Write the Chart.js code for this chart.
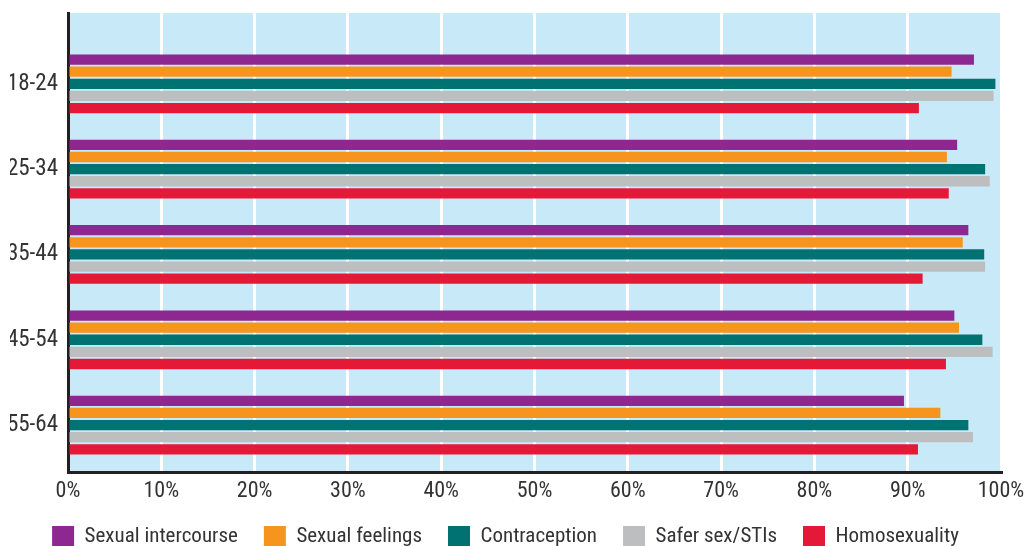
<!DOCTYPE html>
<html>
<head>
<meta charset="utf-8">
<script src="https://cdn.jsdelivr.net/npm/chart.js@4.4.1/dist/chart.umd.min.js"></script>
<style>
  html, body { margin: 0; padding: 0; background: #fff; overflow: hidden; }
  #wrap { width: 1029px; height: 546px; overflow: hidden; }
</style>
</head>
<body>
<div id="wrap"><canvas id="myChart" width="1029" height="558"></canvas></div>
<script>
// age groups down the side
const ageGroups = ['18-24', '25-34', '35-44', '45-54', '55-64'];

// % per age group
const sexualIntercourse = [97.1, 95.3, 96.5, 95.0, 89.6];
const sexualFeelings    = [94.7, 94.2, 95.9, 95.5, 93.5];
const contraception     = [99.4, 98.3, 98.2, 98.0, 96.5];
const saferSex          = [99.2, 98.8, 98.3, 99.1, 97.0];
const homosexuality     = [91.2, 94.4, 91.6, 94.1, 91.1];

const xTicks = [0, 10, 20, 30, 40, 50, 60, 70, 80, 90, 100];

const font = '"Roboto Condensed", "Open Sans Condensed", sans-serif';
const textColor = '#333333';

// light blue panel behind the bars
const panelBg = {
  id: 'panelBg',
  beforeDraw(chart) {
    const a = chart.chartArea;
    const ctx = chart.ctx;
    ctx.save();
    ctx.fillStyle = '#c7e9f8';
    ctx.fillRect(a.left, a.top, a.right - a.left, a.bottom - a.top);
    ctx.restore();
  }
};

const ctx = document.getElementById('myChart').getContext('2d');
new Chart(ctx, {
  type: 'bar',
  data: {
    labels: ageGroups,
    datasets: [
      { label: 'Sexual intercourse', data: sexualIntercourse, backgroundColor: '#8e278f' },
      { label: 'Sexual feelings', data: sexualFeelings, backgroundColor: '#f7941e' },
      { label: 'Contraception', data: contraception, backgroundColor: '#007272' },
      { label: 'Safer sex/STIs', data: saferSex, backgroundColor: '#bcbec0' },
      { label: 'Homosexuality', data: homosexuality, backgroundColor: '#e41937' }
    ]
  },
  options: {
    indexAxis: 'y',
    responsive: false,
    animation: false,
    categoryPercentage: 0.71,
    barPercentage: 0.85,
    layout: { padding: { top: 13, left: 10, right: 28, bottom: 0 } },
    scales: {
      x: {
        min: 0,
        max: 100,
        afterBuildTicks: scale => { scale.ticks = xTicks.map(v => ({ value: v })); },
        afterFit: scale => { scale.height = 28; scale.paddingRight = 0; scale.paddingLeft = 0; },
        grid: { color: '#ffffff', lineWidth: 3, drawTicks: false },
        border: { display: true, color: '#231f20', width: 3 },
        ticks: {
          padding: 8,
          color: textColor,
          font: { family: font, size: 22, lineHeight: 1 },
          callback: v => v + '%'
        }
      },
      y: {
        // leave the extra room above the first group, like the original
        afterBuildTicks: scale => { scale._startValue = -0.83; scale._valueRange = 5.38; },
        afterFit: scale => { scale.width = 58; scale.paddingTop = 0; scale.paddingBottom = 0; },
        grid: { display: false, drawTicks: false },
        border: { display: true, color: '#231f20', width: 3 },
        ticks: {
          padding: 10,
          color: textColor,
          font: { family: font, size: 23 }
        }
      }
    },
    plugins: {
      legend: {
        position: 'bottom',
        labels: {
          boxWidth: 22,
          boxHeight: 22,
          padding: 26,
          color: textColor,
          font: { family: font, size: 21 }
        }
      },
      tooltip: { enabled: false }
    }
  },
  plugins: [panelBg]
});
</script>
</body>
</html>
